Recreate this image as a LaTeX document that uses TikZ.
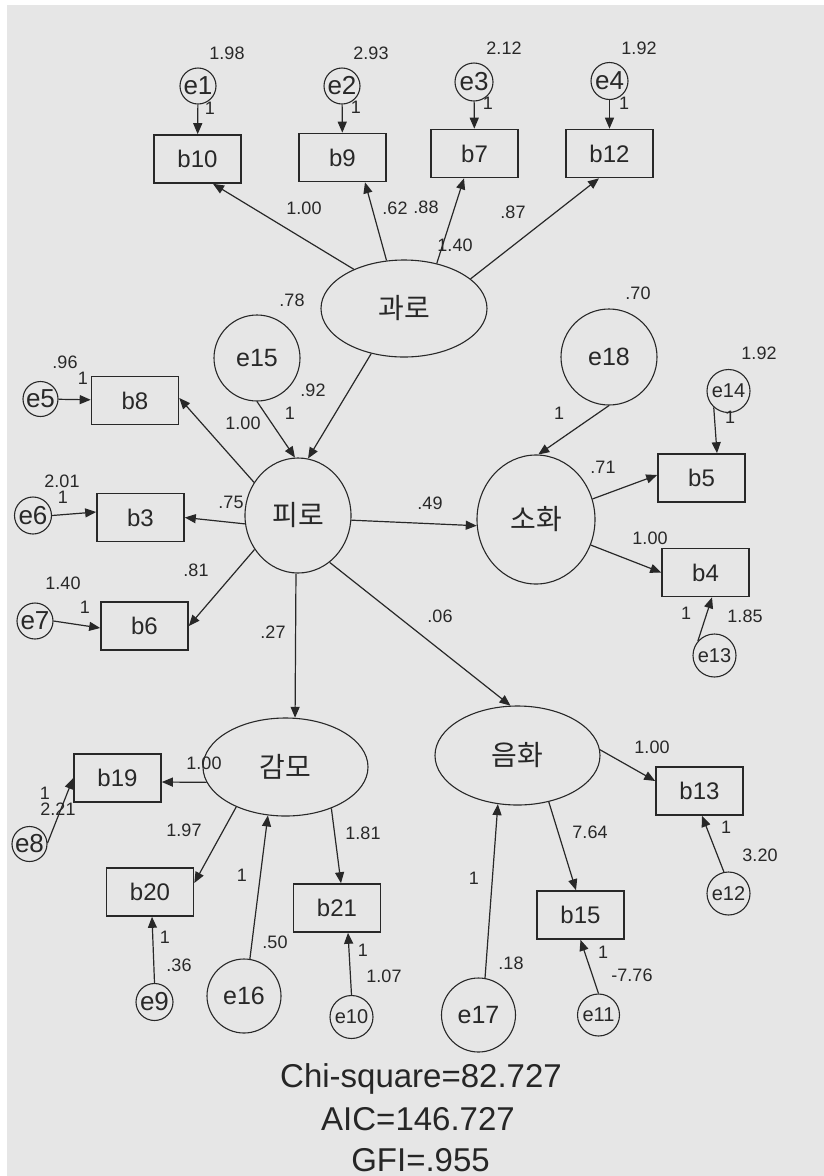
\documentclass[tikz,border=0pt]{standalone}
\usepackage{fontspec}
\setmainfont{Liberation Sans}
\newfontfamily\krfont{Noto Sans CJK KR}
\usetikzlibrary{shapes.geometric,arrows.meta}
\definecolor{bg}{RGB}{230,230,230}
\definecolor{ink}{RGB}{40,40,40}
\begin{document}
\begin{tikzpicture}[x=1pt,y=-1pt,
  every node/.style={text=ink},
  obs/.style={draw=ink,line width=1.6pt,rectangle,minimum width=87pt,minimum height=48pt,inner sep=0pt,font=\fontsize{24}{24}\selectfont},
  lat/.style={draw=ink,line width=1.1pt,ellipse,inner sep=0pt,font=\krfont\fontsize{28}{28}\selectfont},
  err/.style={draw=ink,line width=1.1pt,circle,inner sep=0pt,font=\fontsize{26}{26}\selectfont},
  errs/.style={err,font=\fontsize{20}{20}\selectfont},
  errb/.style={err,font=\fontsize{25}{25}\selectfont},
  num/.style={inner sep=0pt,font=\fontsize{18}{18}\selectfont},
  con/.style={draw=ink,line width=1.2pt,-{Triangle[length=11pt,width=9pt]}},
  fitstat/.style={inner sep=0pt,anchor=base,text=black!85,font=\fontsize{33}{33}\selectfont}
]
\useasboundingbox (0,0) rectangle (824,1176);
\fill[white] (0,0) rectangle (824,1176);
\fill[bg] (7,5) rectangle (824,1176);

% latent variables
\node[lat,minimum width=166pt,minimum height=97pt] (gwa) at (404,308.5) {과로};
\node[lat,minimum width=106pt,minimum height=115pt] (piro) at (298,515.5) {피로};
\node[lat,minimum width=118pt,minimum height=129pt] (soh) at (536,519.5) {소화};
\node[lat,minimum width=165pt,minimum height=98pt] (gam) at (285.5,767) {감모};
\node[lat,minimum width=165pt,minimum height=99pt] (eum) at (517.5,755.5) {음화};

% observed variables
\node[obs] (b10) at (197.5,159) {b10};
\node[obs] (b9) at (342.5,157.5) {b9};
\node[obs] (b7) at (474.5,153.5) {b7};
\node[obs] (b12) at (609.5,153.5) {b12};
\node[obs] (b8) at (135,400.5) {b8};
\node[obs] (b3) at (140.5,517.5) {b3};
\node[obs] (b6) at (144.5,626) {b6};
\node[obs] (b5) at (701.5,478) {b5};
\node[obs] (b4) at (705.5,572.5) {b4};
\node[obs] (b19) at (117.5,778) {b19};
\node[obs] (b20) at (150,892) {b20};
\node[obs] (b21) at (337,908) {b21};
\node[obs] (b13) at (699.5,791) {b13};
\node[obs] (b15) at (580.5,915) {b15};

% error terms
\node[err,minimum size=36pt] (e1) at (198,86) {e1};
\node[err,minimum size=36pt] (e2) at (342,86) {e2};
\node[err,minimum size=38pt] (e3) at (474,82) {e3};
\node[err,minimum size=37pt] (e4) at (609.5,81) {e4};
\node[err,minimum size=35pt] (e5) at (40.5,399) {e5};
\node[err,minimum size=37pt] (e6) at (33,515.5) {e6};
\node[err,minimum size=36pt] (e7) at (35,621) {e7};
\node[err,minimum size=35pt] (e8) at (29.5,844) {e8};
\node[err,minimum size=37pt] (e9) at (154.5,1002) {e9};
\node[errs,minimum size=43pt] (e10) at (351.5,1017) {e10};
\node[errs,minimum size=42pt] (e11) at (598.5,1015) {e11};
\node[errs,minimum size=43pt] (e12) at (728.5,893.5) {e12};
\node[errs,minimum size=43pt] (e13) at (714.5,655.5) {e13};
\node[errs,minimum size=43pt] (e14) at (728.5,391) {e14};
\node[errb,minimum size=86pt] (e15) at (257,358) {e15};
\node[errb,minimum size=74pt] (e16) at (244,996) {e16};
\node[errb,minimum size=74pt] (e17) at (478.5,1015) {e17};
\node[errb,minimum size=96pt] (e18) at (609,357) {e18};

% connectors
\draw[con] (e1) -- (b10);
\draw[con] (e2) -- (b9);
\draw[con] (e3) -- (b7);
\draw[con] (e4) -- (b12);
\draw[con] (gwa.142) -- ([xshift=15.5pt]b10.south);
\draw[con] (gwa.110) -- ([xshift=22.5pt]b9.south);
\draw[con] (gwa.54) -- ([xshift=-10.5pt]b7.south);
\draw[con] (gwa.24) -- ([xshift=-10.5pt]b12.south);
\draw[con] (gwa.234) -- (piro.80);
\draw[con] (e15.south) -- (piro.93);
\draw[con] (piro.143) -- ([yshift=2.5pt]b8.east);
\draw[con] (piro.189) -- (b3.east);
\draw[con] (piro.218) -- (b6.east);
\draw[con] (piro.355) -- (soh.186);
\draw[con] (piro.268) -- (gam.79);
\draw[con] (piro.304) -- (eum.98);
\draw[con] (e18.south) -- (soh.88);
\draw[con] (e14.228) -- ([xshift=15.5pt]b5.north);
\draw[con] (soh.20) -- ([yshift=3pt]b5.west);
\draw[con] (soh.335) -- (b4.west);
\draw[con] (e13.139) -- ([xshift=6.5pt]b4.south);
\draw[con] (gam.191) -- ([yshift=-4pt]b19.east);
\draw[con] (e8.3) -- (b19.west);
\draw[con] (gam.219) -- ([yshift=9pt]b20.east);
\draw[con] (e9.north) -- ([xshift=2pt]b20.south);
\draw[con] (e16.81) -- (gam.250);
\draw[con] (gam.318) -- ([xshift=4pt]b21.north);
\draw[con] (e10.north) -- ([xshift=11pt]b21.south);
\draw[con] (eum.4) -- ([yshift=10pt]b13.west);
\draw[con] (e12.102) -- ([xshift=2.5pt]b13.south);
\draw[con] (eum.304) -- ([xshift=-4.5pt]b15.north);
\draw[con] (e11.north) -- (b15.south);
\draw[con] (e17.80) -- (eum.248);
\draw[con] (e5) -- (b8);
\draw[con] (e6.east) -- ([yshift=5.5pt]b3.west);
\draw[con] (e7.east) -- ([yshift=-2pt]b6.west);

% numeric labels
\node[num] (l1) at (227,53) {1.98};
\node[num] (l2) at (210,108) {1};
\node[num] (l3) at (371,53) {2.93};
\node[num] (l4) at (356,107) {1};
\node[num] (l5) at (504,48) {2.12};
\node[num] (l6) at (488,103) {1};
\node[num] (l7) at (639,48) {1.92};
\node[num] (l8) at (624,103) {1};
\node[num] (l9) at (304,208) {1.00};
\node[num] (l10) at (395,208) {.62};
\node[num] (l11) at (426,207) {.88};
\node[num] (l12) at (513,212) {.87};
\node[num] (l13) at (455,245) {1.40};
\node[num] (l14) at (292,300) {.78};
\node[num] (l15) at (638,293) {.70};
\node[num] (l16) at (65,362) {.96};
\node[num] (l17) at (83,378) {1};
\node[num] (l18) at (62,481) {2.01};
\node[num] (l19) at (63,497) {1};
\node[num] (l20) at (63,583) {1.40};
\node[num] (l21) at (85,607) {1};
\node[num] (l22) at (313,390) {.92};
\node[num] (l23) at (290,413) {1};
\node[num] (l24) at (243,423) {1.00};
\node[num] (l25) at (231,502) {.75};
\node[num] (l26) at (196,570) {.81};
\node[num] (l27) at (273,632) {.27};
\node[num] (l28) at (430,503) {.49};
\node[num] (l29) at (440,616) {.06};
\node[num] (l30) at (559,413) {1};
\node[num] (l31) at (759,353) {1.92};
\node[num] (l32) at (730,417) {1};
\node[num] (l33) at (603,467) {.71};
\node[num] (l34) at (650,538) {1.00};
\node[num] (l35) at (686,613) {1};
\node[num] (l36) at (745,616) {1.85};
\node[num] (l37) at (204,763) {1.00};
\node[num] (l38) at (45,793) {1};
\node[num] (l39) at (58,809) {2.21};
\node[num] (l40) at (184,830) {1.97};
\node[num] (l41) at (165,937) {1};
\node[num] (l42) at (179,965) {.36};
\node[num] (l43) at (242,875) {1};
\node[num] (l44) at (275,942) {.50};
\node[num] (l45) at (363,833) {1.81};
\node[num] (l46) at (363,950) {1};
\node[num] (l47) at (384,976) {1.07};
\node[num] (l48) at (652,747) {1.00};
\node[num] (l49) at (726,827) {1};
\node[num] (l50) at (760,855) {3.20};
\node[num] (l51) at (590,832) {7.64};
\node[num] (l52) at (603,952) {1};
\node[num] (l53) at (632,975) {-7.76};
\node[num] (l54) at (474,878) {1};
\node[num] (l55) at (511,963) {.18};

% fit statistics
\node[fitstat] (chi) at (421,1087) {Chi-square=82.727};
\node[fitstat] (aic) at (418,1130) {AIC=146.727};
\node[fitstat] (gfi) at (420.5,1171) {GFI=.955};
\end{tikzpicture}
\end{document}
